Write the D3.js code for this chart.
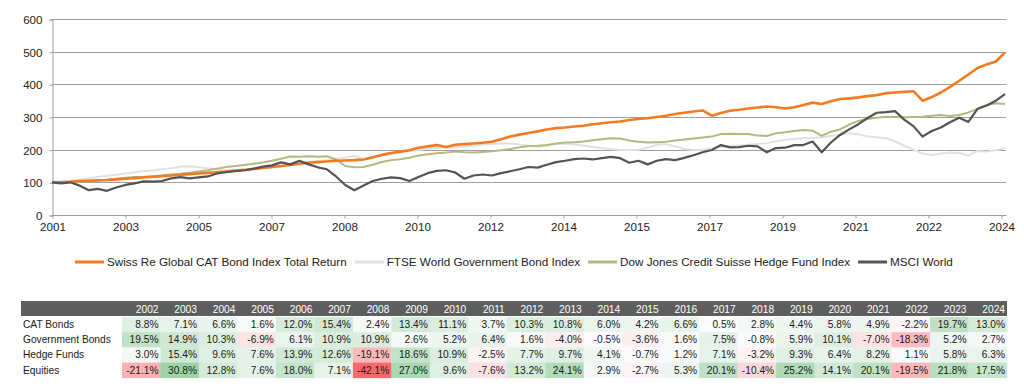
<!DOCTYPE html>
<html>
<head>
<meta charset="utf-8">
<script src="https://cdn.jsdelivr.net/npm/d3@7"></script>
<style>
  body { margin: 0; background: #fff; }
  svg { display: block; font-family: "Liberation Sans", Arial, sans-serif; }
</style>
</head>
<body>
<div id="chart"></div>
<script>
var WIDTH  = 1024;
var HEIGHT = 388;

// Index levels (start = 100) at even steps along the x axis.
var CAT_BOND = [100, 101, 102, 104, 105, 106, 107, 109, 111, 113, 115, 117, 119, 121, 123, 125,
  127, 129, 131, 133, 136, 138, 141, 144, 147, 150, 153, 157, 160, 162, 164, 166, 167, 168, 170,
  177, 184, 190, 194, 198, 206, 210, 214, 208, 215, 217, 219, 221, 224, 232, 240, 246, 251, 256,
  262, 266, 268, 271, 273, 278, 281, 284, 286, 291, 294, 296, 300, 304, 309, 313, 317, 320, 304,
  312, 319, 322, 326, 329, 332, 330, 326, 330, 337, 344, 340, 348, 355, 357, 360, 364, 367, 373,
  375, 377, 379, 350, 361, 375, 392, 411, 430, 450, 461, 470, 498];
var GOV_BOND = [100, 102, 105, 108, 112, 116, 120, 123, 127, 131, 134, 136, 140, 143, 148, 149,
  146, 143, 139, 137, 137, 138, 140, 143, 145, 148, 155, 160, 163, 165, 168, 172, 175, 182, 170,
  175, 182, 187, 192, 196, 199, 203, 205, 206, 208, 210, 212, 215, 217, 219, 219, 216, 212, 209,
  212, 217, 219, 216, 213, 208, 205, 201, 199, 199, 200, 206, 215, 217, 210, 202, 199, 200, 204,
  208, 211, 213, 215, 217, 220, 226, 230, 233, 235, 236, 238, 242, 246, 250, 247, 240, 238, 235,
  225, 212, 200, 188, 184, 188, 191, 190, 182, 196, 194, 198, 204];
var HEDGE_FUND = [100, 100, 100, 101, 103, 106, 108, 111, 114, 116, 117, 119, 121, 124, 126, 129,
  133, 137, 142, 147, 150, 153, 157, 161, 166, 172, 179, 178, 180, 178, 180, 170, 150, 146, 147,
  154, 162, 168, 171, 175, 182, 186, 189, 191, 194, 192, 191, 193, 195, 198, 202, 207, 211, 212,
  214, 219, 222, 223, 225, 229, 232, 235, 234, 228, 224, 222, 223, 224, 228, 231, 234, 237, 240,
  248, 249, 248, 248, 243, 242, 250, 253, 257, 260, 258, 242, 255, 262, 277, 288, 294, 298, 301,
  300, 299, 300, 301, 304, 306, 303, 306, 314, 325, 337, 342, 340];
var MSCI_WORLD = [100, 97, 100, 90, 76, 80, 74, 84, 92, 97, 103, 102, 104, 112, 116, 112, 115,
  118, 127, 131, 134, 137, 142, 148, 152, 161, 155, 166, 155, 146, 140, 118, 92, 76, 90, 104, 111,
  115, 113, 104, 116, 128, 135, 137, 130, 111, 121, 124, 121, 128, 134, 140, 147, 145, 154, 162,
  166, 171, 173, 170, 174, 178, 174, 160, 166, 155, 166, 171, 168, 175, 183, 192, 199, 214, 207,
  208, 212, 210, 192, 205, 206, 214, 214, 225, 192, 222, 245, 262, 278, 297, 313, 315, 318, 292,
  272, 240, 257, 268, 284, 298, 285, 325, 335, 350, 370];

var SERIES_NAMES = ['Swiss Re Global CAT Bond Index Total Return', 'FTSE World Government Bond Index',
  'Dow Jones Credit Suisse Hedge Fund Index', 'MSCI World'];
var X_LABELS = ['2001', '2003', '2005', '2007', '2008', '2010', '2012', '2014', '2015', '2017',
  '2019', '2021', '2022', '2024'];
var Y_TICKS = [0, 100, 200, 300, 400, 500, 600];

// Annual returns table
var TABLE_YEARS = ['2002', '2003', '2004', '2005', '2006', '2007', '2008', '2009', '2010', '2011',
  '2012', '2013', '2014', '2015', '2016', '2017', '2018', '2019', '2020', '2021', '2022', '2023', '2024'];
var ROW_NAMES = ['CAT Bonds', 'Government Bonds', 'Hedge Funds', 'Equities'];
var RET_CAT   = [8.8, 7.1, 6.6, 1.6, 12.0, 15.4, 2.4, 13.4, 11.1, 3.7, 10.3, 10.8, 6.0, 4.2, 6.6, 0.5, 2.8, 4.4, 5.8, 4.9, -2.2, 19.7, 13.0];
var RET_GOV   = [19.5, 14.9, 10.3, -6.9, 6.1, 10.9, 10.9, 2.6, 5.2, 6.4, 1.6, -4.0, -0.5, -3.6, 1.6, 7.5, -0.8, 5.9, 10.1, -7.0, -18.3, 5.2, 2.7];
var RET_HEDGE = [3.0, 15.4, 9.6, 7.6, 13.9, 12.6, -19.1, 18.6, 10.9, -2.5, 7.7, 9.7, 4.1, -0.7, 1.2, 7.1, -3.2, 9.3, 6.4, 8.2, 1.1, 5.8, 6.3];
var RET_EQ    = [-21.1, 30.8, 12.8, 7.6, 18.0, 7.1, -42.1, 27.0, 9.6, -7.6, 13.2, 24.1, 2.9, -2.7, 5.3, 20.1, -10.4, 25.2, 14.1, 20.1, -19.5, 21.8, 17.5];

var COLORS = ['#f47a1f', '#e4e0dd', '#aebc80', '#545454'];
var WIDTHS = [2.6, 2, 2, 2.2];

var svg = d3.select('#chart').append('svg')
            .attr('width', WIDTH)
            .attr('height', HEIGHT);

// ---- line chart ----
var END_T = 13.055;   // last data point sits a little past the final label
var x = d3.scaleLinear().domain([0, X_LABELS.length - 1]).range([52, 1001]);
var y = d3.scaleLinear().domain([0, 600]).range([215, 19]);
var plotRight = x(13.07);

svg.append('g').selectAll('line')
   .data(Y_TICKS.slice(1))
   .enter().append('line')
   .attr('x1', x(0)).attr('x2', plotRight)
   .attr('y1', d => Math.round(y(d)) + 0.5).attr('y2', d => Math.round(y(d)) + 0.5)
   .attr('stroke', '#9e9e9e');

var yAxis = d3.axisLeft(y).tickValues(Y_TICKS).tickSize(3).tickPadding(7);
var gy = svg.append('g').attr('transform', 'translate(' + (x(0) + 0.5) + ',0.5)').call(yAxis);

var xAxis = d3.axisBottom(x).tickValues(d3.range(X_LABELS.length))
              .tickFormat(i => X_LABELS[i]).tickSize(3).tickPadding(4).tickSizeOuter(0);
var gx = svg.append('g').attr('transform', 'translate(0.5,' + (Math.round(y(0)) + 0.5) + ')').call(xAxis);
gx.select('.domain').attr('d', 'M' + (x(0) - 0.5) + ',0H' + plotRight);

[gx, gy].forEach(g => {
  g.selectAll('.domain, line').attr('stroke', '#9e9e9e');
  g.selectAll('text').attr('fill', '#222').style('font-size', '11.6px')
   .style('font-family', '"Liberation Sans", Arial, sans-serif');
});
gy.selectAll('text').attr('dy', '0.35em');

var line = d3.line()
             .x((d, i, arr) => x(i * END_T / (arr.length - 1)))
             .y(d => y(d));

var allSeries = [CAT_BOND, GOV_BOND, HEDGE_FUND, MSCI_WORLD];
var drawOrder = [1, 2, 0, 3];
drawOrder.forEach(k => {
  svg.append('path')
     .datum(allSeries[k])
     .attr('d', line)
     .attr('fill', 'none')
     .attr('stroke', COLORS[k])
     .attr('stroke-width', WIDTHS[k])
     .attr('stroke-linejoin', 'round');
});

// ---- legend ----
var legend = svg.append('g').attr('transform', 'translate(75,262)');
var lx = 0;
SERIES_NAMES.forEach((name, k) => {
  legend.append('line')
        .attr('x1', lx).attr('x2', lx + 29).attr('y1', 0).attr('y2', 0)
        .attr('stroke', COLORS[k]).attr('stroke-width', 3);
  var t = legend.append('text')
        .attr('x', lx + 32).attr('y', 4)
        .attr('fill', '#222').style('font-size', '11.7px')
        .text(name);
  lx += 32 + t.node().getComputedTextLength() + 8;
});

// ---- returns table ----
var TABLE_LEFT = 21, TABLE_RIGHT = 1007, FIRST_COL = 122;
var colW = (TABLE_RIGHT - FIRST_COL) / TABLE_YEARS.length;
var HEAD_TOP = 301, HEAD_H = 15, ROW_TOP = 317, ROW_H = 15.2;
var tableValues = [RET_CAT, RET_GOV, RET_HEDGE, RET_EQ];

var cellColor = d3.scaleLinear()
                  .domain([-42.1, 0, 30.8])
                  .range(['#f8696b', '#fcfcfe', '#9dd3a7']);

var table = svg.append('g').style('font-size', '10.2px');

table.append('rect')
     .attr('x', TABLE_LEFT).attr('y', HEAD_TOP)
     .attr('width', TABLE_RIGHT - TABLE_LEFT).attr('height', HEAD_H)
     .attr('fill', '#5e5e5e');

table.selectAll('.year')
     .data(TABLE_YEARS)
     .enter().append('text')
     .attr('class', 'year')
     .attr('x', (d, i) => FIRST_COL + (i + 1) * colW - 2)
     .attr('y', HEAD_TOP + 11.5)
     .attr('text-anchor', 'end')
     .attr('fill', '#fff')
     .text(d => d);

tableValues.forEach((vals, r) => {
  var top = ROW_TOP + r * ROW_H;
  var row = table.append('g');
  row.append('text')
     .attr('x', 23).attr('y', top + 11)
     .attr('fill', '#1a1a1a')
     .text(ROW_NAMES[r]);
  row.selectAll('rect')
     .data(vals)
     .enter().append('rect')
     .attr('x', (d, i) => FIRST_COL + i * colW)
     .attr('y', top)
     .attr('width', colW + 0.3).attr('height', ROW_H + 0.3)
     .attr('fill', d => cellColor(d));
  row.selectAll('.val')
     .data(vals)
     .enter().append('text')
     .attr('class', 'val')
     .attr('x', (d, i) => FIRST_COL + (i + 1) * colW - 2)
     .attr('y', top + 11)
     .attr('text-anchor', 'end')
     .attr('fill', '#1a1a1a')
     .text(d => d.toFixed(1) + '%');
});
</script>
</body>
</html>
